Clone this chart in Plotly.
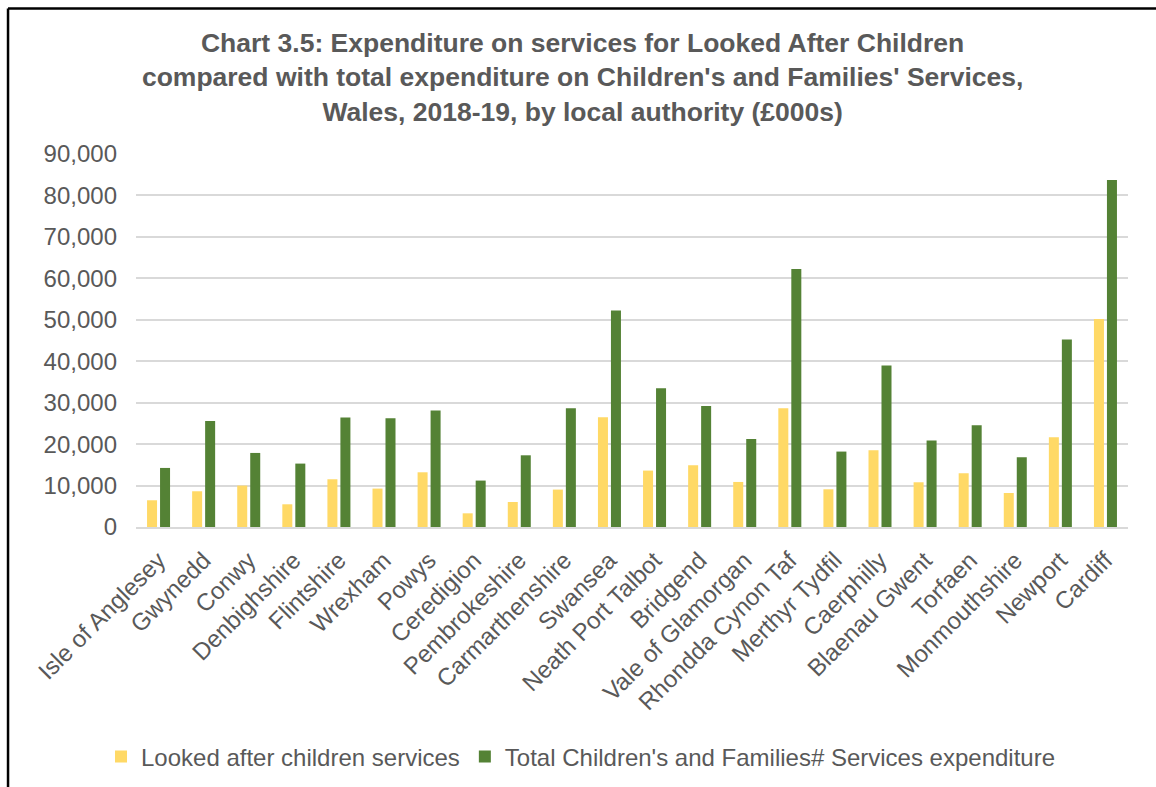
import plotly.graph_objects as go

# Local authorities in Wales, 2018-19
authorities = [
    "Isle of Anglesey", "Gwynedd", "Conwy", "Denbighshire", "Flintshire",
    "Wrexham", "Powys", "Ceredigion", "Pembrokeshire", "Carmarthenshire",
    "Swansea", "Neath Port Talbot", "Bridgend", "Vale of Glamorgan",
    "Rhondda Cynon Taf", "Merthyr Tydfil", "Caerphilly", "Blaenau Gwent",
    "Torfaen", "Monmouthshire", "Newport", "Cardiff",
]

# Expenditure, £000s
looked_after = [
    6450, 8620, 10000, 5480, 11520, 9270, 13200, 3300, 6040, 9030,
    26490, 13610, 14900, 10870, 28660, 9100, 18520, 10790, 12970, 8210,
    21660, 50160,
]
total_children_families = [
    14250, 25600, 17870, 15300, 26400, 26250, 28100, 11200, 17300, 28660,
    52250, 33490, 29220, 21250, 62230, 18200, 38970, 20860, 24560, 16830,
    45250, 83720,
]

y_ticks = [0, 10000, 20000, 30000, 40000, 50000, 60000, 70000, 80000, 90000]

TEXT = "#595959"
GRID = "#D9D9D9"
FONT = "Liberation Sans, Arial, sans-serif"

fig = go.Figure()
fig.add_trace(go.Bar(
    x=authorities, y=looked_after,
    name="Looked after children services",
    marker=dict(color="#FFD966", line=dict(width=0)),
))
fig.add_trace(go.Bar(
    x=authorities, y=total_children_families,
    name="Total Children's and Families# Services expenditure",
    marker=dict(color="#548235", line=dict(width=0)),
))

fig.update_layout(
    width=1156, height=787,
    margin=dict(l=136, r=28, t=154, b=260, autoexpand=False),
    paper_bgcolor="white", plot_bgcolor="white",
    font=dict(family=FONT, color=TEXT, size=24),
    barmode="group", bargap=0.4235, bargroupgap=0.23,
    title=dict(
        text="<b>Chart 3.5: Expenditure on services for Looked After Children<br>"
             "compared with total expenditure on Children's and Families' Services,<br>"
             "Wales, 2018-19, by local authority (£000s)</b>",
        x=0.504, xanchor="center", xref="container",
        y=0.934, yanchor="middle", yref="container",
        font=dict(family=FONT, size=26.5, color=TEXT),
    ),
    xaxis=dict(
        tickangle=-45, showgrid=False, showline=True, linecolor=GRID,
        linewidth=1.5, ticks="", ticklabelstandoff=8, automargin=False,
        tickfont=dict(size=24, color=TEXT),
    ),
    yaxis=dict(
        range=[0, 90000], tickvals=y_ticks, tickformat=",",
        showgrid=True, gridcolor=GRID, gridwidth=1.5,
        zeroline=False, showline=False, ticks="", automargin=False,
        ticklabelstandoff=18, tickfont=dict(size=24, color=TEXT),
    ),
    legend=dict(
        orientation="h", xref="container", yref="container",
        x=0.5026, xanchor="center", y=0.0381, yanchor="middle",
        font=dict(size=24, color=TEXT), bgcolor="rgba(0,0,0,0)",
    ),
    shapes=[
        dict(type="line", xref="paper", yref="paper",
             x0=-0.129, x1=1.2, y0=1.39, y1=1.39,
             line=dict(color="black", width=2.5)),
        dict(type="line", xref="paper", yref="paper",
             x0=-0.129, x1=-0.129, y0=1.39, y1=-1.0,
             line=dict(color="black", width=2.5)),
    ],
)

fig.write_html("out.html")
